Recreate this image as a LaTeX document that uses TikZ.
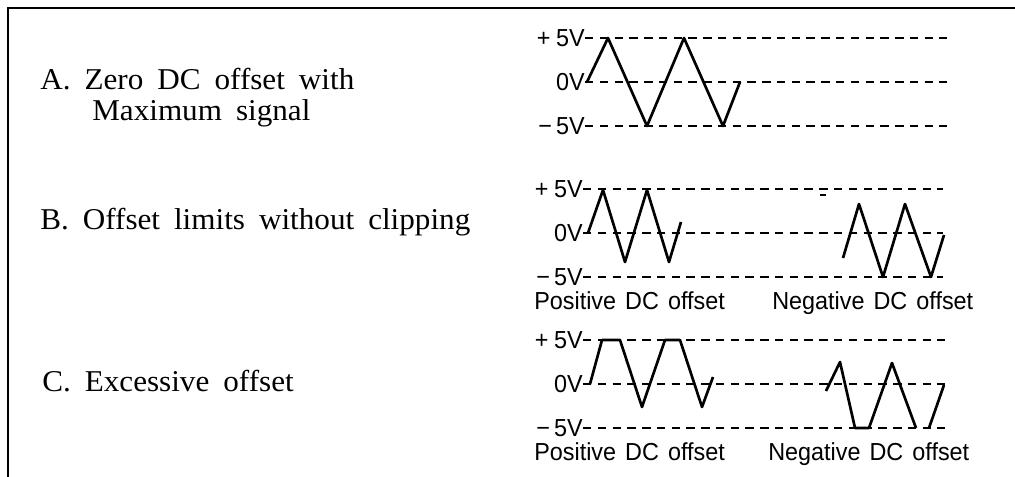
\documentclass[tikz,border=0pt]{standalone}
\usepackage{fontspec}
\setmainfont{Liberation Serif}[FakeStretch=1.03, WordSpace=1.8]
\newfontfamily\labelfont{Liberation Sans}[FakeStretch=0.95, WordSpace=1.4]
\begin{document}
\begin{tikzpicture}[x=0.025cm, y=-0.025cm,
    frame/.style={line width=1.4pt},
    wave/.style={line width=1.9pt, line join=round},
    refline/.style={dash pattern=on 6pt off 4.5pt, line width=0.9pt},
    vlabel/.style={anchor=east, inner sep=0pt, font=\labelfont\fontsize{17.5pt}{19pt}\selectfont},
    caption/.style={anchor=base west, inner sep=0pt, font=\labelfont\fontsize{17.5pt}{19pt}\selectfont},
    item/.style={anchor=base west, inner sep=0pt, font=\fontsize{21.5pt}{24pt}\selectfont}]
  \useasboundingbox (0,0) rectangle (1015,477);
  \draw[frame] (1015,8) -- (8,8) -- (8,477);
  % Left hand texts
  \node[item] (ta) at (40,90) {A. Zero DC offset with};
  \node[item] (ta2) at (92,121) {Maximum signal};
  \node[item] (tb) at (40,230) {B. Offset limits without clipping};
  \node[item] (tc) at (42,392) {C. Excessive offset};
  % Zero offset
  \begin{scope}[shift={(0,82)}]
    \foreach \n/\v/\t in {aP/-44/{+\kern4pt5V}, aZ/0/{0V}, aM/44/{−\kern3pt5V}} {
      \node[vlabel] (\n) at (585,\v) {\t};
      \draw[refline] (\n.east) -- (947,\v);
    }
    \draw[wave] (587,0) -- (608,-44) -- (647,44) -- (684,-44) -- (723,44) -- (740,0);
  \end{scope}
  % Offset limits
  \begin{scope}[shift={(0,233)}]
    \foreach \n/\v/\t in {bP/-44/{+\kern4pt5V}, bZ/0/{0V}, bM/44/{−\kern3pt5V}} {
      \node[vlabel] (\n) at (583,\v) {\t};
      \draw[refline] (\n.east) -- (943,\v);
    }
    \draw[wave] (588,0) -- (603,-43) -- (625,29) -- (647,-43) -- (669,29) -- (681,-11);
    \draw[wave] (843,25) -- (859,-29) -- (883,44) -- (905,-29) -- (931,44) -- (944,2);
    \draw[line width=0.9pt] (820,-38) -- (826,-38);
    \node[caption] (bpos) at (534,77) {Positive DC offset};
    \node[caption] (bneg) at (772,77) {Negative DC offset};
  \end{scope}
  % Excessive offset
  \begin{scope}[shift={(0,384)}]
    \foreach \n/\v/\t in {cP/-44/{+\kern4pt5V}, cZ/0/{0V}, cM/44/{−\kern3pt5V}} {
      \node[vlabel] (\n) at (583,\v) {\t};
      \draw[refline] (\n.east) -- (945,\v);
    }
    \draw[wave] (590,0) -- (602,-44) -- (620,-44) -- (642,23) -- (665,-44) -- (680,-44) -- (702,23) -- (713,-7);
    \draw[wave] (826,7) -- (840,-22) -- (855,44) -- (869,44) -- (892,-21) -- (916,44);
    \draw[wave] (929,44) -- (944,1);
    \node[caption] (cpos) at (534,77) {Positive DC offset};
    \node[caption] (cneg) at (768,77) {Negative DC offset};
  \end{scope}
\end{tikzpicture}
\end{document}
